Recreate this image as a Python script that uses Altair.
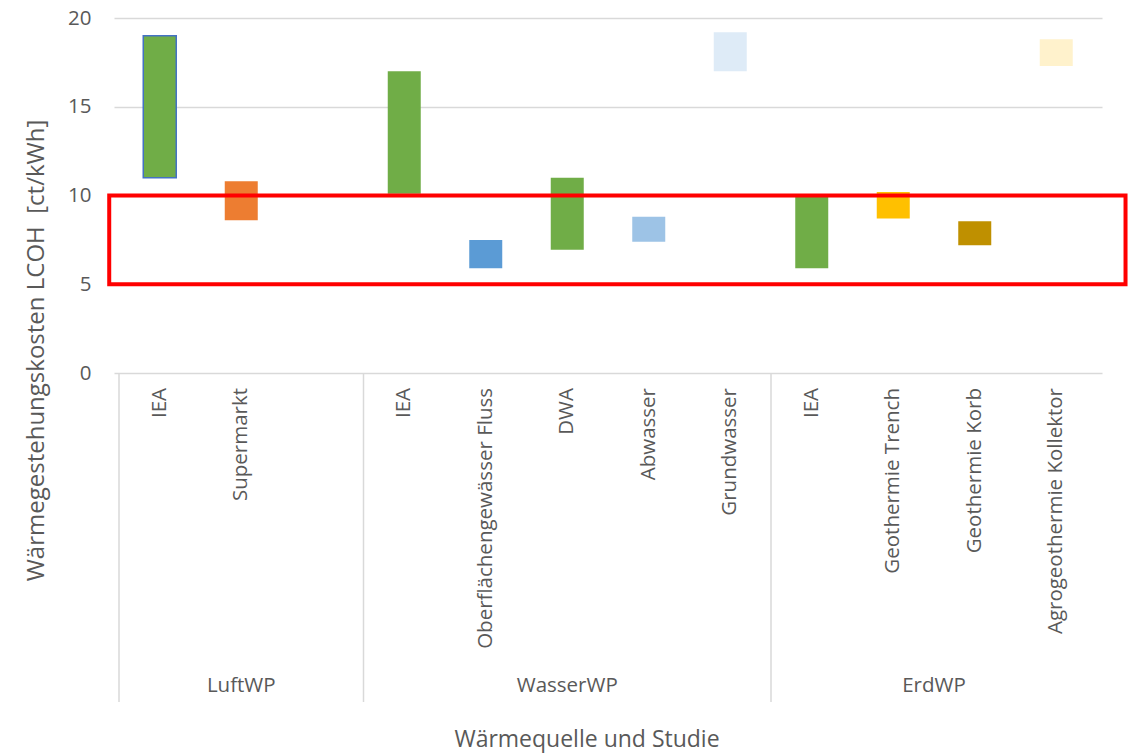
import altair as alt
import pandas as pd

# ---- data ----
groups = ["LuftWP", "WasserWP", "ErdWP"]
group_slots = [3, 5, 4]
studies = [
    ["IEA", "Supermarkt"],
    ["IEA", "Oberflächengewässer Fluss", "DWA", "Abwasser", "Grundwasser"],
    ["IEA", "Geothermie Trench", "Geothermie Korb", "Agrogeothermie Kollektor"],
]
low = [11.0, 8.6, 10.1, 5.9, 6.95, 7.4, 17.0, 5.9, 8.7, 7.2, 17.3]
high = [19.0, 10.8, 17.0, 7.5, 11.0, 8.8, 19.2, 10.0, 10.2, 8.55, 18.8]
fills = ["#70AD47", "#ED7D31", "#70AD47", "#5B9BD5", "#70AD47", "#9DC3E6",
         "#DEEBF7", "#70AD47", "#FFC000", "#BF9000", "#FFF2CC"]
borders = ["#4472C4", None, None, None, None, None, None, None, None, None, None]

highlight_low, highlight_high = 5, 10
y_ticks = [0, 5, 10, 15, 20]

TXT = "#595959"
GRID = "#D9D9D9"
FONT = "Open Sans"
LBL = 20.5
TTL = 23

# ---- tables ----
rows, grp_rows, seps = [], [], []
start = 0
i = 0
for g, n, st in zip(groups, group_slots, studies):
    seps.append(start)
    grp_rows.append({"group": g, "center": start + n / 2})
    for k, s in enumerate(st):
        rows.append({
            "study": s, "group": g, "slot": start + k + 0.5,
            "low": low[i], "high": high[i], "fill": fills[i],
            "stroke": borders[i] or fills[i],
            "sw": 1.5 if borders[i] else 0.0,
        })
        i += 1
    start += n
total_slots = start

df = pd.DataFrame(rows)
gdf = pd.DataFrame(grp_rows)
sdf = pd.DataFrame({"sep": seps})
hdf = pd.DataFrame({"x0": [-0.12], "x1": [total_slots + 0.35],
                    "lo": [highlight_low], "hi": [highlight_high]})
tdf = pd.DataFrame({"t": ["Wärmequelle und Studie"]})

xs = alt.Scale(domain=[0, total_slots], nice=False, zero=False)
ys = alt.Scale(domain=[0, 20], nice=False)

bars = alt.Chart(df).mark_bar(size=33).encode(
    x=alt.X("slot:Q", scale=xs, axis=None),
    y=alt.Y("low:Q", scale=ys,
            axis=alt.Axis(values=y_ticks, grid=True, gridColor=GRID, gridWidth=1.5,
                          domain=False, ticks=False, labelPadding=23,
                          labelFontSize=LBL, labelColor=TXT, labelFont=FONT,
                          title="Wärmegestehungskosten LCOH\u00a0 [ct/kWh]",
                          titleFont=FONT, titleFontSize=24, titleColor=TXT,
                          titleFontWeight="normal", titleAngle=270,
                          titleX=-78, titleY=332, titleAlign="center",
                          titleBaseline="middle")),
    y2="high:Q",
    fill=alt.Fill("fill:N", scale=None),
    stroke=alt.Stroke("stroke:N", scale=None),
    strokeWidth=alt.StrokeWidth("sw:Q", scale=None),
)

highlight = alt.Chart(hdf).mark_rect(fill=None, stroke="#FF0000", strokeWidth=4).encode(
    x=alt.X("x0:Q", scale=xs), x2="x1:Q",
    y=alt.Y("lo:Q", scale=ys), y2="hi:Q",
)

cat_labels = alt.Chart(df).mark_text(
    angle=270, align="right", baseline="middle", fontSize=LBL, font=FONT, color=TXT
).encode(x=alt.X("slot:Q", scale=xs), y=alt.value(370), text="study:N")

seplines = alt.Chart(sdf).mark_rule(color=GRID, strokeWidth=1.5).encode(
    x=alt.X("sep:Q", scale=xs), y=alt.value(355), y2=alt.value(684)
)

grp_labels = alt.Chart(gdf).mark_text(
    baseline="middle", align="center", fontSize=LBL, font=FONT, color=TXT
).encode(x=alt.X("center:Q", scale=xs), y=alt.value(668), text="group:N")

xtitle = alt.Chart(tdf).mark_text(
    baseline="middle", align="center", fontSize=TTL, font=FONT, color=TXT
).encode(x=alt.value(473), y=alt.value(722), text="t:N")

chart = alt.layer(bars, highlight, seplines, cat_labels, grp_labels, xtitle).properties(
    width=988, height=355,
    autosize=alt.AutoSizeParams(type="none"),
    padding={"left": 114, "top": 18, "right": 33, "bottom": 383},
    background="white",
).configure_view(stroke=None)

chart.save("out.html", embed_options={"renderer": "svg", "actions": False})
